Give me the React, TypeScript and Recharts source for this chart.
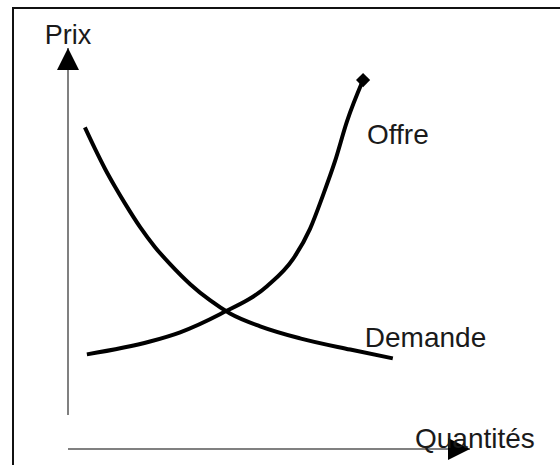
import { ComposedChart, Line, XAxis, YAxis, Label, LabelList } from 'recharts';

// quantities / prices on a 0-100 scale
const demandQty = [4.2, 6.7, 9.2, 11.7, 14.2, 17.9, 21.6, 25.4, 30.4, 35.3, 40.3, 47.8, 57.7, 70.2, 80.8];
const demandPrice = [80.2, 74.9, 69.9, 65.4, 61.2, 55.4, 50.4, 46.1, 41.1, 37.1, 33.8, 30.6, 27.6, 24.8, 22.6];

const supplyQty = [4.7, 20.4, 27.9, 37.8, 49.5, 56.0, 60.2, 63.4, 66.4, 69.4, 73.4];
const supplyPrice = [23.6, 26.8, 29.1, 33.6, 40.6, 47.4, 54.9, 63.2, 71.7, 81.7, 92.0];

const demandData = demandQty.map((q, i) => ({ q, p: demandPrice[i] }));
const supplyData = supplyQty.map((q, i) => ({ q, p: supplyPrice[i] }));

const FONT = '"Liberation Sans", Arial, sans-serif';
const TEXT = '#1a1a1a';

const EndMarker = (props: any) => {
  const { cx, cy, index } = props;
  if (index !== supplyData.length - 1) return <g key={`d-${index}`} />;
  return (
    <rect
      key={`d-${index}`}
      x={cx - 5}
      y={cy - 5}
      width={10}
      height={10}
      fill="#000"
      transform={`rotate(45 ${cx} ${cy})`}
    />
  );
};

const App = () => {
  return (
    <div style={{ position: 'absolute', left: 0, top: 0, width: 560, height: 465, background: '#fff', overflow: 'hidden' }}>
      <div
        style={{
          position: 'absolute',
          left: 12,
          top: 7,
          width: 600,
          height: 500,
          borderTop: '2px solid #111',
          borderLeft: '2px solid #111',
        }}
      />
      <ComposedChart
        width={560}
        height={465}
        margin={{ top: 48, right: 90, bottom: 0, left: 8 }}
        style={{ position: 'absolute', left: 0, top: 0 }}
      >
        <defs>
          <marker
            id="arrow"
            markerUnits="userSpaceOnUse"
            markerWidth={22}
            markerHeight={22}
            viewBox="0 0 22 22"
            refX={22}
            refY={11}
            orient="auto-start-reverse"
          >
            <path d="M0,0 L22,11 L0,22 z" fill="#000" />
          </marker>
        </defs>
        <XAxis
          type="number"
          dataKey="q"
          domain={[0, 100]}
          allowDataOverflow
          height={16}
          tick={false}
          tickLine={false}
          axisLine={{ stroke: '#808080', strokeWidth: 2, markerEnd: 'url(#arrow)' }}
        >
          <Label
            content={(props: any) => {
              const vb = props.viewBox;
              return (
                <text x={vb.x + vb.width - 55} y={vb.y - 1} fontSize={28} fontFamily={FONT} fill={TEXT}>
                  Quantités
                </text>
              );
            }}
          />
        </XAxis>
        <YAxis
          type="number"
          dataKey="p"
          domain={[0, 100]}
          allowDataOverflow
          width={60}
          tick={false}
          tickLine={false}
          axisLine={{ stroke: '#808080', strokeWidth: 2, strokeDasharray: '367 100', markerStart: 'url(#arrow)' }}
        >
          <Label
            content={(props: any) => {
              const vb = props.viewBox;
              return (
                <text x={vb.x + vb.width} y={vb.y - 4} textAnchor="middle" fontSize={27} fontFamily={FONT} fill={TEXT}>
                  Prix
                </text>
              );
            }}
          />
        </YAxis>
        <Line
          data={demandData}
          dataKey="p"
          type="monotone"
          stroke="#000"
          strokeWidth={4}
          dot={false}
          activeDot={false}
          isAnimationActive={false}
        >
          <LabelList
            dataKey="p"
            content={(props: any) =>
              props.index === demandData.length - 1 ? (
                <text x={props.x - 28} y={props.y - 11} fontSize={28} fontFamily={FONT} fill={TEXT}>
                  Demande
                </text>
              ) : null
            }
          />
        </Line>
        <Line
          data={supplyData}
          dataKey="p"
          type="monotone"
          stroke="#000"
          strokeWidth={4}
          dot={EndMarker}
          activeDot={false}
          isAnimationActive={false}
        >
          <LabelList
            dataKey="p"
            content={(props: any) =>
              props.index === supplyData.length - 2 ? (
                <text x={props.x + 20} y={props.y + 23} fontSize={28} fontFamily={FONT} fill={TEXT}>
                  Offre
                </text>
              ) : null
            }
          />
        </Line>
      </ComposedChart>
    </div>
  );
};

export default App;
